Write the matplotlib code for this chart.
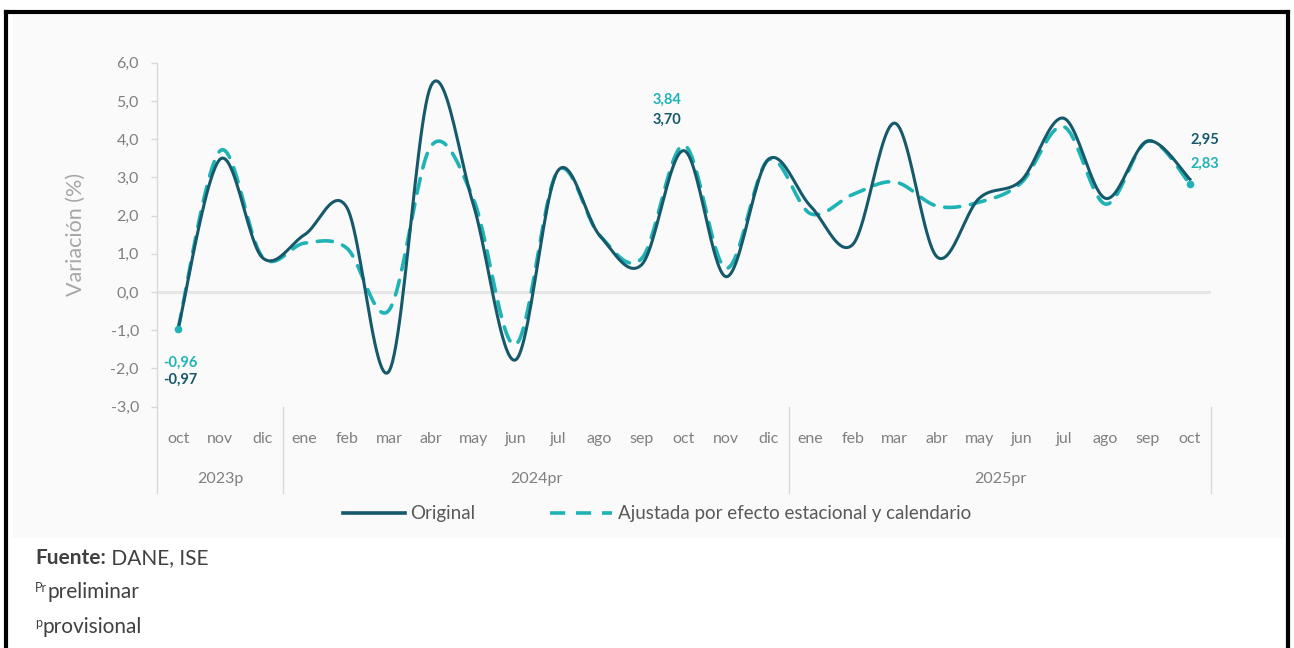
import numpy as np
import matplotlib
matplotlib.use("Agg")
import matplotlib.pyplot as plt
from matplotlib.patches import Rectangle
from matplotlib.lines import Line2D
import matplotlib.transforms as mtransforms

# ---------------- data ----------------
months = ["oct", "nov", "dic",
          "ene", "feb", "mar", "abr", "may", "jun", "jul", "ago", "sep", "oct", "nov", "dic",
          "ene", "feb", "mar", "abr", "may", "jun", "jul", "ago", "sep", "oct"]
years = ["2023p", "2024pr", "2025pr"]
year_spans = [(0, 2), (3, 14), (15, 24)]
original = [-0.97, 3.48, 0.90, 1.50, 2.22, -2.08, 5.40, 2.30, -1.78, 3.16, 1.48, 0.72,
            3.70, 0.40, 3.47, 2.25, 1.24, 4.42, 0.92, 2.45, 2.92, 4.55, 2.45, 3.95, 2.95]
ajustada = [-0.96, 3.70, 0.92, 1.28, 1.15, -0.48, 3.82, 2.45, -1.38, 3.16, 1.48, 0.88,
            3.84, 0.62, 3.46, 2.05, 2.55, 2.88, 2.25, 2.35, 2.86, 4.33, 2.30, 3.95, 2.83]
yticks = [-3, -2, -1, 0, 1, 2, 3, 4, 5, 6]

C_ORIG = "#15596a"
C_ADJ = "#1fb3b6"
GRAY = "#808080"
FONT = "Lato"

plt.rcParams["font.family"] = [FONT, "DejaVu Sans"]


def smooth(y, n=24):
    """Excel-like smoothed line (Catmull-Rom Bezier)."""
    x = np.arange(len(y), dtype=float)
    y = np.asarray(y, dtype=float)
    pts = np.column_stack([x, y])
    out = []
    m = len(pts)
    for i in range(m - 1):
        p0 = pts[i - 1] if i > 0 else pts[i]
        p1 = pts[i]
        p2 = pts[i + 1]
        p3 = pts[i + 2] if i + 2 < m else pts[i + 1]
        c1 = p1 + (p2 - p0) / 6.0
        c2 = p2 - (p3 - p1) / 6.0
        t = np.linspace(0, 1, n, endpoint=(i == m - 2))[:, None]
        seg = ((1 - t) ** 3) * p1 + 3 * ((1 - t) ** 2) * t * c1 + 3 * (1 - t) * t ** 2 * c2 + t ** 3 * p2
        out.append(seg)
    s = np.vstack(out)
    return s[:, 0], s[:, 1]


W, H = 1294, 648
fig = plt.figure(figsize=(W / 100, H / 100), dpi=100)
fig.patch.set_facecolor("white")

# faint chart-area background
fig.patches.append(Rectangle((13 / W, 1 - 538 / H), (1285 - 13) / W, (538 - 15) / H,
                             transform=fig.transFigure, facecolor="#fafafa",
                             edgecolor="none", zorder=-10))
# outer black frame (open at bottom)
for xs, ys in [((6 / W, 6 / W), (1 - 12 / H, -0.1)),
               ((1288 / W, 1288 / W), (1 - 12 / H, -0.1)),
               ((6 / W, 1288 / W), (1 - 12 / H, 1 - 12 / H))]:
    fig.add_artist(Line2D(xs, ys, transform=fig.transFigure, color="black", lw=3.0,
                          solid_capstyle="projecting"))

left, right = 157 / W, 1211 / W
top, bottom = 1 - 62.7 / H, 1 - 406.7 / H
ax = fig.add_axes([left, bottom, right - left, top - bottom])
ax.set_facecolor("none")
ax.set_xlim(-0.5, len(months) - 0.5)
ax.set_ylim(-3, 6)

# zero line
ax.axhline(0, color="#e6e6e6", lw=2.2, zorder=1)

xs, ys = smooth(ajustada)
ax.plot(xs, ys, color=C_ADJ, lw=2.6, dashes=(4.2, 3.0), dash_capstyle="round", zorder=3)
xs, ys = smooth(original)
ax.plot(xs, ys, color=C_ORIG, lw=2.2, zorder=4)
ax.plot([0, len(ajustada) - 1], [ajustada[0], ajustada[-1]], "o", color=C_ADJ, ms=4.5, zorder=5)

# spines / ticks
for s in ["top", "right", "bottom"]:
    ax.spines[s].set_visible(False)
ax.spines["left"].set_color("#d9d9d9")
ax.spines["left"].set_linewidth(1.0)
ax.set_yticks(yticks)
ax.set_yticklabels([f"{v:.1f}".replace(".", ",") for v in yticks])
ax.tick_params(axis="y", colors="#d9d9d9", labelcolor=GRAY, labelsize=11.5, length=4, width=1, pad=9)
ax.set_xticks(range(len(months)))
ax.set_xticklabels(months)
ax.tick_params(axis="x", length=0, labelcolor=GRAY, labelsize=11.5, pad=18)
ax.set_ylabel("Variación (%)", color="#a6a6a6", fontsize=15.5, labelpad=18)

# category separators and year labels
px = 1 / H / (top - bottom)  # axes fraction per pixel (vertical)
trans = mtransforms.blended_transform_factory(ax.transData, ax.transAxes)
sep_bottom = -86 * px
for xpos in [-0.5, 2.5, 14.5, len(months) - 0.5]:
    ax.add_line(Line2D([xpos, xpos], [0, sep_bottom], transform=trans, color="#d9d9d9",
                       lw=1.0, clip_on=False))
for (a, b), lab in zip(year_spans, years):
    ax.text((a + b) / 2, -72 * px, lab, transform=trans, ha="center", va="center",
            color=GRAY, fontsize=11.5)

# data labels
lab_kw = dict(fontsize=10.5, fontweight="bold", va="center")
ax.text(-0.35, -1.86, "-0,96", color=C_ADJ, ha="left", **lab_kw)
ax.text(-0.35, -2.30, "-0,97", color=C_ORIG, ha="left", **lab_kw)
ax.text(11.6, 5.02, "3,84", color=C_ADJ, ha="center", **lab_kw)
ax.text(11.6, 4.50, "3,70", color=C_ORIG, ha="center", **lab_kw)
ax.text(24.35, 3.98, "2,95", color=C_ORIG, ha="center", **lab_kw)
ax.text(24.35, 3.35, "2,83", color=C_ADJ, ha="center", **lab_kw)

# legend
h_orig = Line2D([], [], color=C_ORIG, lw=2.6)
h_adj = Line2D([], [], color=C_ADJ, lw=2.6, dashes=(4.2, 3.0))
fig.legend([h_orig, h_adj], ["Original", "Ajustada por efecto estacional y calendario"],
           loc="center", bbox_to_anchor=(657 / W, 1 - 514 / H), ncol=2, frameon=False,
           fontsize=13.5, labelcolor="#595959", handlelength=3.3, handletextpad=0.3,
           columnspacing=4.0)

# footnotes
FC = "#404040"
t1 = fig.text(35 / W, 1 - 564 / H, "Fuente:", fontweight="bold", color=FC, fontsize=15,
              va="baseline")
ax.annotate(" DANE, ISE", xy=(1, 0), xycoords=t1, va="bottom", ha="left",
            color=FC, fontsize=15, annotation_clip=False)

s1 = fig.text(35 / W, 1 - 592 / H, "Pr", color=FC, fontsize=9, va="baseline")
ax.annotate("preliminar", xy=(1, 0), xycoords=s1, xytext=(0, -8), textcoords="offset pixels",
            va="bottom", ha="left", color=FC, fontsize=15, annotation_clip=False)
s2 = fig.text(35 / W, 1 - 627 / H, "p", color=FC, fontsize=9, va="baseline")
ax.annotate("provisional", xy=(1, 0), xycoords=s2, xytext=(0, -8), textcoords="offset pixels",
            va="bottom", ha="left", color=FC, fontsize=15, annotation_clip=False)

fig.savefig("out.png", dpi=100, facecolor="white")
